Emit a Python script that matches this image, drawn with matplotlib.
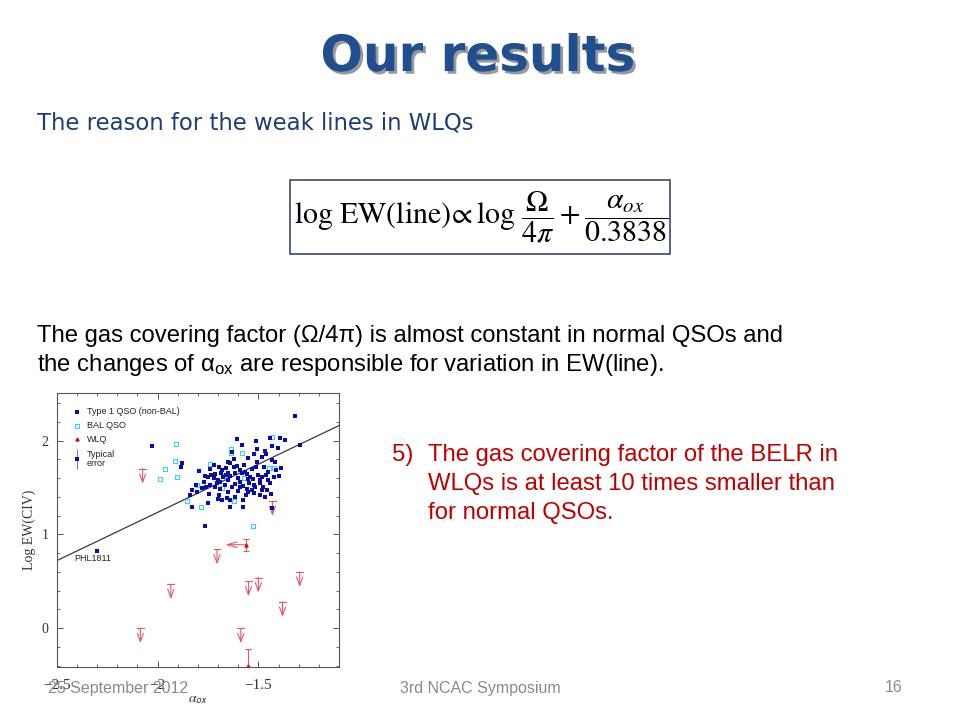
import matplotlib
matplotlib.use('Agg')
import matplotlib.pyplot as plt
from matplotlib.patches import Rectangle
import matplotlib.patheffects as pe
from matplotlib.ticker import MultipleLocator

plt.rcParams['mathtext.fontset'] = 'custom'
plt.rcParams['mathtext.rm'] = 'Liberation Sans'
plt.rcParams['mathtext.it'] = 'Liberation Sans:italic'
plt.rcParams['mathtext.bf'] = 'Liberation Sans:bold'

# ---------------- data ----------------
type1_x = [-1.320, -2.028, -1.605, -1.443, -1.392, -1.369, -1.292, -1.507, -1.469, -1.433,
           -1.403, -1.520, -1.434, -1.418, -1.389, -1.508, -1.510, -1.566, -1.590, -1.607,
           -1.643, -1.652, -1.659, -1.697, -1.721, -1.738, -1.792, -1.877, -1.885,
           -1.766, -1.749, -1.733, -1.713, -1.687, -1.675, -1.651, -1.639, -1.618, -1.582,
           -1.557, -1.541, -1.525, -1.500, -1.484, -1.464, -1.451, -1.410, -1.398,
           -1.828, -1.803, -1.779, -1.762, -1.738, -1.716, -1.705, -1.689, -1.664, -1.648,
           -1.631, -1.615, -1.590, -1.574, -1.557, -1.546, -1.530, -1.516, -1.492, -1.475,
           -1.459, -1.443,
           -1.746, -1.697, -1.680, -1.656, -1.639, -1.615, -1.574, -1.549, -1.520, -1.492,
           -1.467, -1.439, -1.828, -1.749, -1.700, -1.643, -1.577, -1.764, -1.430,
           -1.680, -1.620, -1.570, -1.530, -1.470, -1.600, -1.660, -1.700, -1.720, -1.550,
           -1.490, -1.450, -1.420, -1.600, -1.650, -1.690, -1.520, -1.480, -1.560, -1.590,
           -1.770, -1.810, -1.840, -1.620, -1.550, -1.480, -1.630, -1.580, -1.510, -1.460,
           -2.300]
type1_y = [2.263, 1.937, 2.015, 2.029, 2.032, 2.004, 1.954, 1.912, 1.894, 1.940,
           1.919, 1.858, 1.794, 1.773, 1.706, 1.769, 1.723, 1.670, 1.681, 1.730,
           1.762, 1.770, 1.706, 1.723, 1.741, 1.698, 1.677, 1.759, 1.716,
           1.624, 1.610, 1.634, 1.645, 1.652, 1.610, 1.659, 1.624, 1.652, 1.659,
           1.645, 1.610, 1.588, 1.634, 1.610, 1.631, 1.581, 1.688, 1.617,
           1.475, 1.457, 1.492, 1.510, 1.528, 1.503, 1.546, 1.563, 1.528, 1.581,
           1.510, 1.539, 1.563, 1.517, 1.482, 1.553, 1.474, 1.510, 1.546, 1.503,
           1.474, 1.553,
           1.428, 1.421, 1.368, 1.386, 1.368, 1.403, 1.368, 1.457, 1.439, 1.421,
           1.403, 1.428, 1.297, 1.332, 1.375, 1.290, 1.290, 1.091, 1.280,
           1.690, 1.720, 1.740, 1.700, 1.720, 1.600, 1.630, 1.580, 1.600, 1.590,
           1.580, 1.660, 1.610, 1.460, 1.450, 1.480, 1.530, 1.470, 1.420, 1.510,
           1.560, 1.530, 1.420, 1.800, 1.810, 1.820, 1.880, 1.950, 1.990, 1.860,
           0.820]

bal_x = [-1.910, -1.913, -1.962, -1.990, -1.905, -1.806, -1.855, -1.786, -1.738, -1.678,
         -1.638, -1.636, -1.579, -1.621, -1.527, -1.431, -1.423, -1.448, -1.572, -1.664]
bal_y = [1.965, 1.780, 1.700, 1.590, 1.610, 1.525, 1.360, 1.290, 1.750, 1.495,
         1.910, 1.870, 1.865, 1.360, 1.085, 2.040, 1.710, 1.710, 1.600, 1.630]

# WLQ upper limits on EW(CIV)
wlq_lim_x = [-2.074, -1.934, -2.085, -1.705, -1.430, -1.587, -1.549, -1.500, -1.380, -1.295]
wlq_lim_y = [1.70, 0.47, 0.00, 0.84, 1.355, 0.00, 0.50, 0.54, 0.28, 0.60]

# WLQ detections (with error bars)
wlq_det_x = [-1.559, -1.549]
wlq_det_y = [0.89, -0.40]
wlq_det_elo = [0.07, 0.10]
wlq_det_ehi = [0.06, 0.18]
wlq_alpha_limit = [-1.664, None]   # upper limit on alpha_ox (left arrow)

fit_x = [-2.5, -1.1]
fit_y = [0.72, 2.16]

legend_labels = ['Type 1 QSO (non-BAL)', 'BAL QSO', 'WLQ', 'Typical\nerror']
xtick_vals = [-2.5, -2.0, -1.5]
xtick_labels = ['\u22122.5', '\u22122', '\u22121.5']
ytick_vals = [0, 1, 2]

# ---------------- figure ----------------
W, H = 960, 720
fig = plt.figure(figsize=(W / 100, H / 100), dpi=100)
fig.patch.set_facecolor('white')

def fx(p):
    return p / W

def fy(p):
    return 1 - p / H

# Title
fig.text(fx(478), fy(57), 'Our results', ha='center', va='center', fontsize=36,
         fontweight='bold', family='DejaVu Sans', color='#1f4f8f',
         path_effects=[pe.withSimplePatchShadow(offset=(2, -2), shadow_rgbFace='#555555', alpha=0.6)])

fig.text(fx(37), fy(123), 'The reason for the weak lines in WLQs', ha='left', va='center',
         fontsize=16.4, family='DejaVu Sans', color='#1c3d78')

# Equation box
fig.patches.append(Rectangle((fx(290), fy(254)), fx(670) - fx(290), fy(180) - fy(254),
                             transform=fig.transFigure, fill=False, edgecolor='#3b4a6b', lw=1.2))
fig.text(fx(481), fy(218),
         r'$\log\,\mathrm{EW(line)}\!\propto\log\,\dfrac{\Omega}{4\pi}+\dfrac{\alpha_{ox}}{0.3838}$',
         ha='center', va='center', fontsize=21.5, math_fontfamily='stix', color='black')

body = dict(family='Liberation Sans', fontsize=17.2, color='black', ha='left', va='center')
fig.text(fx(37), fy(336), 'The gas covering factor (\u03a9/4\u03c0) is almost constant in normal QSOs and', **body)
fig.text(fx(37), fy(365), 'the changes of \u03b1$_{\\mathrm{ox}}$ are responsible for variation in EW(line).', **body)

red = dict(family='Liberation Sans', fontsize=17.2, color='#c00000', ha='left', va='center')
fig.text(fx(392), fy(455), '5)', **red)
fig.text(fx(428), fy(455), 'The gas covering factor of the BELR in', **red)
fig.text(fx(428), fy(484), 'WLQs is at least 10 times smaller than', **red)
fig.text(fx(428), fy(513), 'for normal QSOs.', **red)

# ---------------- scatter plot ----------------
ax = fig.add_axes([fx(56.7), fy(666.7), fx(339) - fx(56.7), fy(392.7) - fy(666.7)])
ax.set_xlim(-2.5, -1.1)
ax.set_ylim(-0.41, 2.51)

ax.plot(fit_x, fit_y, color='#3a3a3a', lw=0.9, zorder=2)
ax.plot(type1_x, type1_y, 's', ms=2.6, color='#0a0ab0', mew=0, lw=0, zorder=4)
ax.plot(bal_x, bal_y, 's', ms=2.6, mfc='none', mec='#2ed4f0', mew=0.8, lw=0, zorder=3)

wcol = '#e05a64'
for x, y in zip(wlq_lim_x, wlq_lim_y):
    ax.plot([x - 0.017, x + 0.017], [y, y], color=wcol, lw=0.8)
    ax.annotate('', xy=(x, y - 0.16), xytext=(x, y),
                arrowprops=dict(arrowstyle='->,head_length=0.6,head_width=0.22', color=wcol,
                                lw=0.8, shrinkA=0, shrinkB=0))

for x, y, lo, hi, al in zip(wlq_det_x, wlq_det_y, wlq_det_elo, wlq_det_ehi, wlq_alpha_limit):
    ax.errorbar([x], [y], yerr=[[lo], [hi]], fmt='^', ms=2.2, color='#d01020', ecolor=wcol,
                elinewidth=0.8, capsize=2.5, capthick=0.8, zorder=5)
    if al is not None:
        ax.annotate('', xy=(al, y), xytext=(x, y),
                    arrowprops=dict(arrowstyle='->,head_length=0.7,head_width=0.2', color=wcol,
                                    lw=0.8, shrinkA=0, shrinkB=0))

ax.text(-2.415, 0.74, 'PHL1811', fontsize=6.5, family='Liberation Sans', ha='left', va='center',
        color='#222222')

# legend (manual)
lt = ax.transAxes
ax.plot([0.071], [0.931], 's', ms=2.6, color='#0a0ab0', mew=0, transform=lt)
ax.plot([0.071], [0.880], 's', ms=2.6, mfc='none', mec='#2ed4f0', mew=0.8, transform=lt)
ax.plot([0.071], [0.830], '^', ms=2.2, color='#d01020', transform=lt)
ax.errorbar([0.071], [0.757], yerr=[[0.037], [0.037]], fmt='s', ms=2.6, color='#0a0ab0', mew=0,
            ecolor='#7a7ad8', elinewidth=0.8, capsize=2.5, capthick=0.8, transform=lt)
leg_y = [0.931, 0.880, 0.830, 0.757]
for lab, yy in zip(legend_labels, leg_y):
    ax.text(0.107, yy, lab, transform=lt, fontsize=6.5, family='Liberation Sans',
            ha='left', va='center', color='#222222', linespacing=1.0)

ax.set_xticks(xtick_vals)
ax.set_xticklabels(xtick_labels, family='Liberation Serif', fontsize=11, color='#333333')
ax.set_yticks(ytick_vals)
ax.set_yticklabels([str(v) for v in ytick_vals], family='Liberation Serif', fontsize=10, color='#333333')
ax.xaxis.set_minor_locator(MultipleLocator(0.1))
ax.yaxis.set_minor_locator(MultipleLocator(0.2))
ax.tick_params(which='both', direction='in', top=True, right=True, color='#555555')
ax.tick_params(axis='x', which='major', pad=9)
ax.tick_params(axis='y', which='major', pad=6)
ax.tick_params(which='major', length=4, width=0.7)
ax.tick_params(which='minor', length=2.5, width=0.6)
for s in ax.spines.values():
    s.set_color('#555555')
    s.set_linewidth(0.8)

ax.set_ylabel('Log EW(CIV)', family='Liberation Serif', fontsize=10, color='#333333', labelpad=4)
ax.set_xlabel(r'$\alpha_{\mathsf{ox}}$', fontsize=10, math_fontfamily='stix', color='#333333', labelpad=0)

# footer
foot = dict(family='Liberation Sans', fontsize=11.5, color='#8a8a8a', va='center')
fig.text(fx(48), fy(688), '25 September 2012', ha='left', **foot)
fig.text(fx(480), fy(688), '3rd NCAC Symposium', ha='center', **foot)
fig.text(fx(903), fy(688), '16', ha='right', **foot)

fig.savefig('out.png', dpi=100, facecolor='white')
